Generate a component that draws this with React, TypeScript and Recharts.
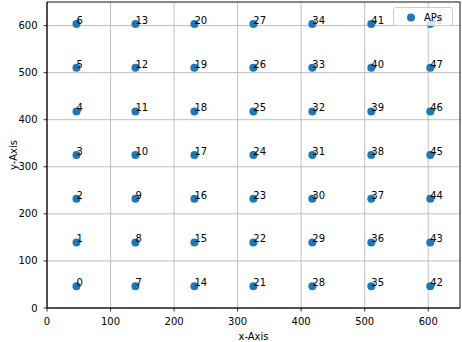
import React from 'react';
import { ScatterChart, Scatter, XAxis, YAxis, CartesianGrid, ReferenceArea, Legend } from 'recharts';

const colX = [46.4, 139.2, 232, 324.8, 417.6, 510.4, 603.2];
const rowY = [46.4, 139.2, 232, 324.8, 417.6, 510.4, 603.2];
const xTicks = [0, 100, 200, 300, 400, 500, 600];
const yTicks = [0, 100, 200, 300, 400, 500, 600];
const seriesName = 'APs';

const data = colX.flatMap((x, c) => rowY.map((y, r) => ({ x, y, id: c * rowY.length + r })));

const FONT = '"DejaVu Sans", sans-serif';
const BLUE = '#1f77b4';

const PointShape = (props: any) => {
  const { cx, cy, payload } = props;
  return (
    <g>
      <circle cx={cx} cy={cy} r={4} fill={BLUE} />
      <text x={cx} y={cy} fontSize={10} fontFamily={FONT} fill="#000">{payload.id}</text>
    </g>
  );
};

const LegendBox = () => (
  <div
    style={{
      width: 60,
      height: 19,
      boxSizing: 'border-box',
      border: '1px solid #cccccc',
      borderRadius: 3,
      background: 'rgba(255,255,255,0.8)',
      position: 'relative',
      fontFamily: FONT,
      fontSize: 10,
    }}
  >
    <svg width={60} height={19} style={{ position: 'absolute', left: 0, top: 0 }}>
      <circle cx={17} cy={9.5} r={4} fill={BLUE} />
      <text x={30} y={13} fontSize={10} fontFamily={FONT} fill="#000">{seriesName}</text>
    </svg>
  </div>
);

export default function App() {
  return (
    <div style={{ position: 'absolute', left: 0, top: 0, width: 462, height: 342, background: '#fff' }}>
      <ScatterChart width={462} height={342} margin={{ top: 2, right: 2, left: 0, bottom: 0 }}>
        <CartesianGrid stroke="#b0b0b0" strokeWidth={0.8} />
        <XAxis
          type="number"
          dataKey="x"
          domain={[0, 650]}
          ticks={xTicks}
          interval={0}
          height={34}
          tickSize={3.5}
          tickMargin={6}
          stroke="#000"
          strokeWidth={0.8}
          tick={{ fill: '#000', fontSize: 10, fontFamily: FONT }}
          allowDataOverflow
          label={{
            content: () => (
              <text x={253.5} y={340} textAnchor="middle" fontSize={10} fontFamily={FONT} fill="#000">x-Axis</text>
            ),
          }}
        />
        <YAxis
          type="number"
          dataKey="y"
          domain={[0, 650]}
          ticks={yTicks}
          interval={0}
          width={47}
          tickSize={3.5}
          tickMargin={6}
          stroke="#000"
          strokeWidth={0.8}
          tick={{ fill: '#000', fontSize: 10, fontFamily: FONT }}
          allowDataOverflow
          label={{
            content: () => (
              <text x={17} y={155} transform="rotate(-90, 17, 155)" textAnchor="middle" fontSize={10} fontFamily={FONT} fill="#000">y-Axis</text>
            ),
          }}
        />
        <ReferenceArea x1={0} x2={650} y1={0} y2={650} fill="none" stroke="#000" strokeWidth={0.8} fillOpacity={0} />
        <Scatter name={seriesName} data={data} fill={BLUE} shape={PointShape} isAnimationActive={false} />
        <Legend
          layout="horizontal"
          verticalAlign="middle"
          align="center"
          content={() => <LegendBox />}
          wrapperStyle={{ left: 393, top: 7, width: 60, height: 19 }}
        />
      </ScatterChart>
    </div>
  );
}
